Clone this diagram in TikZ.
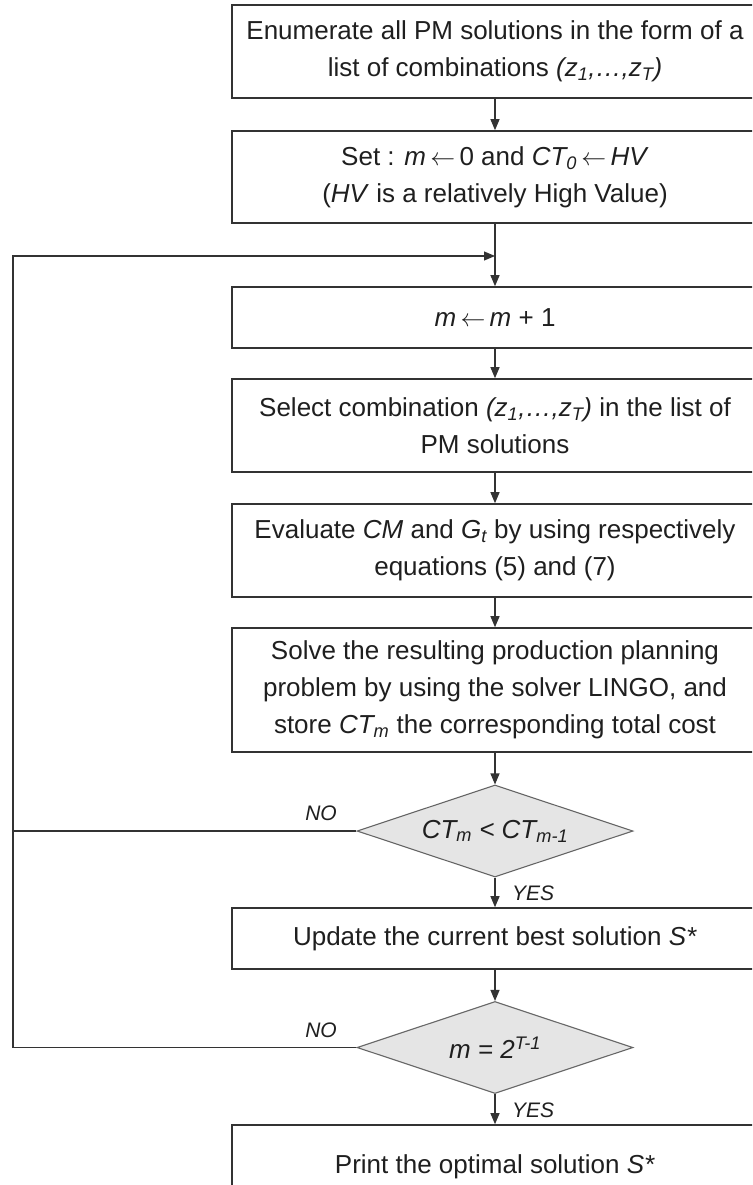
\documentclass[tikz,border=0pt]{standalone}
\usepackage{fontspec}
\setmainfont{Liberation Sans}
\usetikzlibrary{shapes.geometric,arrows.meta}

% italic sub- and superscripts used in the labels
\newcommand{\isub}[1]{\textsubscript{\itshape #1}}
\newcommand{\isup}[1]{\textsuperscript{\itshape #1}}
% assignment arrow
\newcommand{\assign}{\,$\leftarrow$\,}

\tikzset{
  procbox/.style={draw=black!80, line width=1.6pt, fill=white, rectangle,
    minimum width=526pt, inner sep=0pt, align=center, text=black!88,
    font=\fontsize{26}{37}\selectfont},
  testbox/.style={draw=black!60, line width=1.1pt, fill=black!10, diamond,
    shape aspect=3, minimum width=276pt, minimum height=92pt, inner sep=0pt,
    text=black!88, font=\fontsize{26}{30}\selectfont\itshape},
  flow/.style={draw=black!80, line width=1.1pt,
    -{Triangle[length=11pt,width=9pt]}},
  answer/.style={inner sep=0pt, text=black!88, font=\fontsize{21}{24}\selectfont\itshape}
}

\begin{document}
\begin{tikzpicture}[x=1pt,y=-1pt]
\useasboundingbox (0,0) rectangle (752,1185);
\fill[white] (0,0) rectangle (752,1185);
\clip (0,0) rectangle (752,1185);

% process boxes
\node[procbox, minimum height=93pt] (b1) at (495,51.5)
  {Enumerate all PM solutions in the form of a\\list of combinations \textit{(z\isub{1},\dots,z\isub{T})}};
\node[procbox, minimum height=92pt] (b2) at (495,177)
  {Set : \textit{m}\assign 0 and \textit{CT\isub{0}}\assign\textit{HV}\\(\textit{HV} is a relatively High Value)};
\node[procbox, minimum height=61pt] (b3) at (495,317.5)
  {\textit{m}\assign\textit{m} + 1};
\node[procbox, minimum height=93pt] (b4) at (495,425.5)
  {Select combination \textit{(z\isub{1},\dots,z\isub{T})} in the list of\\PM solutions};
\node[procbox, minimum height=93pt] (b5) at (495,550.5)
  {Evaluate \textit{CM} and \textit{G\isub{t}} by using respectively\\equations (5) and (7)};
\node[procbox, minimum height=124pt] (b6) at (495,690)
  {Solve the resulting production planning\\problem by using the solver LINGO, and\\store \textit{CT\isub{m}} the corresponding total cost};
\node[testbox] (d1) at (495,831) {CT\isub{m} < CT\isub{m-1}};
\node[procbox, minimum height=61pt] (b7) at (495,938.5)
  {Update the current best solution \textit{S*}};
\node[testbox] (d2) at (495,1047.5) {m = 2\isup{T-1}};
\node[procbox, minimum height=83pt] (b8) at (495,1166.5)
  {Print the optimal solution \textit{S*}};

% return point of the loop and the left rail
\coordinate (merge) at (495,256);
\coordinate (rail) at (13,0);

% main flow
\draw[flow] (b1) -- (b2);
\draw[flow] (b2) -- (b3);
\draw[flow] (b3) -- (b4);
\draw[flow] (b4) -- (b5);
\draw[flow] (b5) -- (b6);
\draw[flow] (b6) -- (d1);
\draw[flow] (d1) -- (b7);
\draw[flow] (b7) -- (d2);
\draw[flow] (d2) -- (b8);

% NO branches back to the top of the loop
\draw[flow] (d1.west) -- (d1.west -| rail) |- (merge);
\draw[draw=black!80, line width=1.1pt] (d2.west) -- (d2.west -| rail) -- (d1.west -| rail);

% branch labels
\node[answer, anchor=base east] (no1) at (337,820) {NO};
\node[answer, anchor=base west] (yes1) at (512,900) {YES};
\node[answer, anchor=base east] (no2) at (337,1037.5) {NO};
\node[answer, anchor=base west] (yes2) at (512,1117) {YES};
\end{tikzpicture}
\end{document}
